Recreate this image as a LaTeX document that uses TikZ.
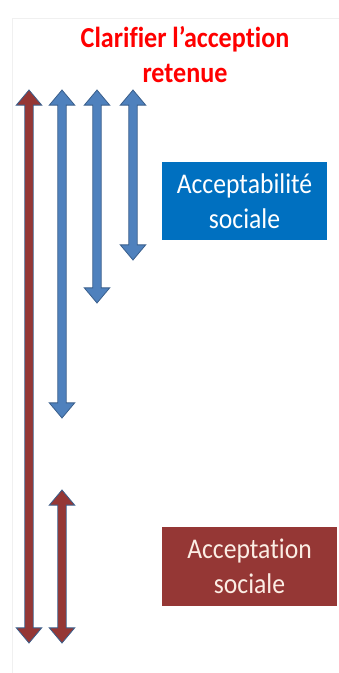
\documentclass[tikz,border=0pt]{standalone}
\usepackage{fontspec}
\setmainfont{Carlito}[FakeStretch=0.9, Ligatures=NoCommon]
\usetikzlibrary{shapes.arrows}
\definecolor{arrowblue}{HTML}{4F81BD}
\definecolor{edgeblue}{HTML}{3A5F8C}
\definecolor{arrowred}{HTML}{953735}
\definecolor{boxblue}{HTML}{0070C0}
\definecolor{boxred}{HTML}{953735}
\definecolor{paletext}{HTML}{FBEDE4}
\tikzset{
  bigarrow/.style = {double arrow, rotate=90, draw=edgeblue, line width=0.8pt,
    inner sep=3.8pt, double arrow head extend=8.5pt,
    double arrow tip angle=80, minimum height=#1},% fleche double
  arr_b/.style = {bigarrow=#1, fill=arrowblue},% fleche bleue
  arr_r/.style = {bigarrow=#1, fill=arrowred},% fleche rouge
  labelbox/.style = {rectangle, align=center, inner sep=0pt,
    font=\fontsize{28.5}{35}\selectfont},
  box_b/.style = {labelbox, fill=boxblue, text=white,
    minimum width=165pt, minimum height=78pt},% acceptabilite
  box_r/.style = {labelbox, fill=boxred, text=paletext,
    minimum width=175pt, minimum height=79pt}% acceptation
}

\begin{document}
\begin{tikzpicture}[x=1pt, y=-1pt]

	\useasboundingbox (0,0) rectangle (339,673);
	\draw[gray!12, line width=1pt] (12,673) -- (12,18) -- (339,18);

	\node [font=\fontsize{29}{35}\selectfont\bfseries, text=red, align=center]
		(titre) at (185,55) {Clarifier l’acception\\retenue};

	\node [arr_r=553pt] (r1) at (29,366.5) {};
	\node [arr_b=328pt] (b1) at (62,254) {};
	\node [arr_b=213pt] (b2) at (97,196.5) {};
	\node [arr_b=170pt] (b3) at (133,175) {};
	\node [arr_r=153pt] (r2) at (62,566.5) {};

	\node [box_b] (acceptabilite) at (244.5,201) {Acceptabilité\\sociale};
	\node [box_r] (acceptation) at (249.5,566.5) {Acceptation\\sociale};

\end{tikzpicture}
\end{document}
